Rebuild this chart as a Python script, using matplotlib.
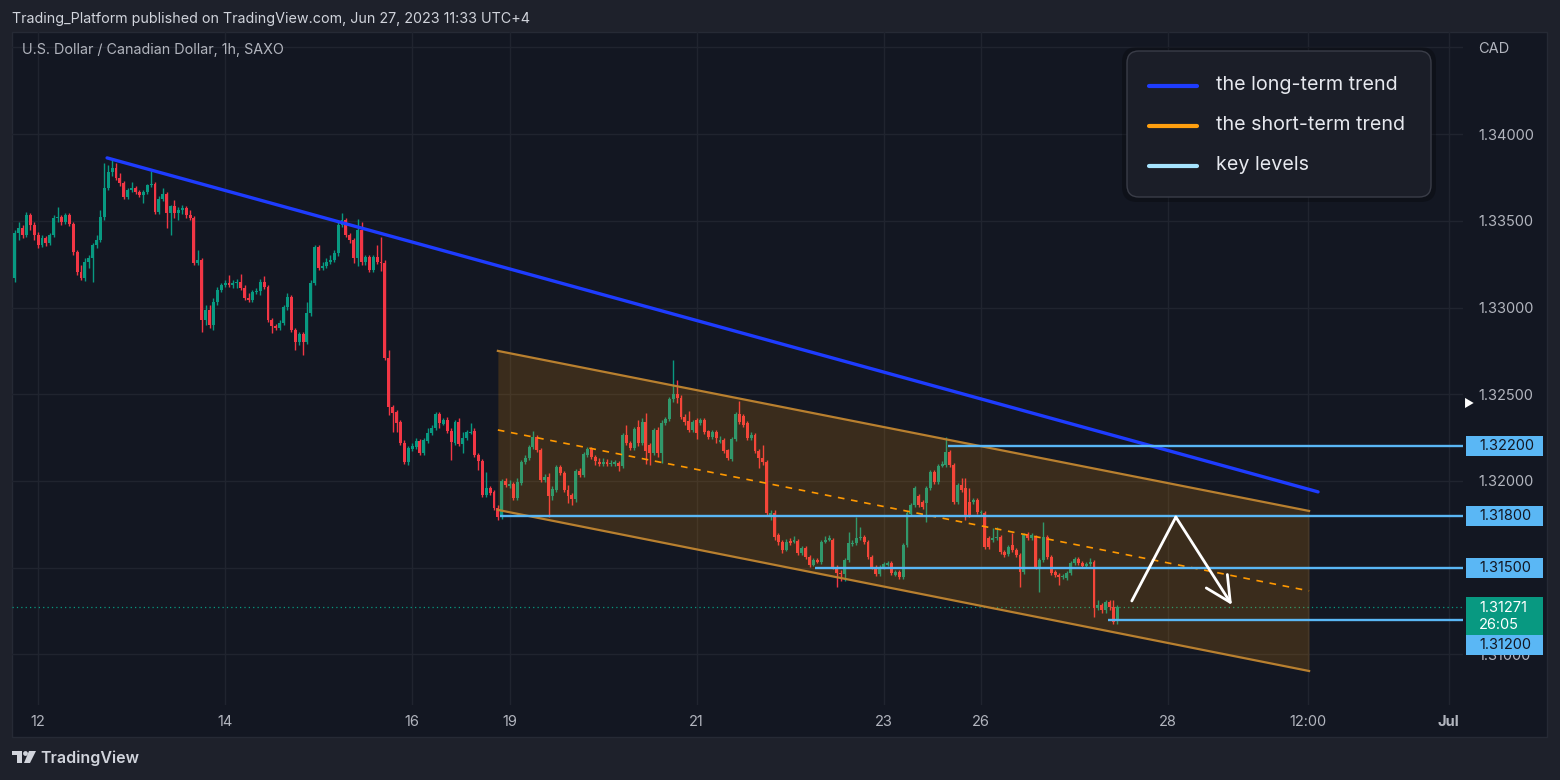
import numpy as np
import matplotlib.pyplot as plt
import matplotlib.transforms as mtransforms
from matplotlib.patches import Rectangle, FancyBboxPatch, Polygon, Circle

plt.rcParams['font.family'] = ['Inter', 'DejaVu Sans']

# USD/CAD 1h candles, bar 0 = Jun 12 00:00 (weekend hours skipped)
first_bar = -6
opens = [
    1.33171, 1.33430, 1.33459, 1.33419, 1.33534, 1.33477, 1.33419, 1.33361, 1.33402, 1.33373,
    1.33419, 1.33517, 1.33523, 1.33494, 1.33534, 1.33482, 1.33321, 1.33205, 1.33171, 1.33263,
    1.33286, 1.33361, 1.33390, 1.33523, 1.33690, 1.33782, 1.33805, 1.33747, 1.33718, 1.33638,
    1.33678, 1.33690, 1.33667, 1.33650, 1.33667, 1.33707, 1.33713, 1.33552, 1.33626, 1.33655,
    1.33546, 1.33586, 1.33546, 1.33563, 1.33575, 1.33534, 1.33517, 1.33257, 1.33275, 1.32928,
    1.32986, 1.32900, 1.33032, 1.33101, 1.33130, 1.33142, 1.33130, 1.33142, 1.33148, 1.33113,
    1.33055, 1.33044, 1.33090, 1.33096, 1.33148, 1.33119, 1.32928, 1.32894, 1.32882, 1.32911,
    1.33003, 1.33061, 1.32871, 1.32802, 1.32848, 1.32802, 1.32969, 1.33142, 1.33350, 1.33228,
    1.33240, 1.33263, 1.33275, 1.33315, 1.33477, 1.33505, 1.33419, 1.33390, 1.33286, 1.33448,
    1.33263, 1.33292, 1.33217, 1.33292, 1.33263, 1.33257,
    1.32710, 1.32426, 1.32397, 1.32340, 1.32219, 1.32110, 1.32184, 1.32196, 1.32230, 1.32161,
    1.32230, 1.32277, 1.32306, 1.32386, 1.32329, 1.32352, 1.32288, 1.32219, 1.32340, 1.32213,
    1.32248, 1.32277, 1.32288, 1.32150, 1.32115, 1.31919, 1.31960, 1.31937, 1.31844, 1.31792,
    1.32000, 1.31971, 1.31983, 1.31902, 1.31988, 1.32110, 1.32133, 1.32196, 1.32254, 1.32179,
    1.32006, 1.32023, 1.31913, 1.31948, 1.32081, 1.32046, 1.31948, 1.31919, 1.31896, 1.32057,
    1.32034, 1.32150, 1.32184, 1.32138, 1.32110, 1.32098, 1.32110, 1.32098, 1.32098, 1.32104,
    1.32086, 1.32265, 1.32219, 1.32190, 1.32311, 1.32219, 1.32340, 1.32207, 1.32161, 1.32294,
    1.32161, 1.32335, 1.32358, 1.32473, 1.32502, 1.32479, 1.32369, 1.32346, 1.32294, 1.32352,
    1.32335, 1.32352, 1.32288, 1.32254, 1.32282, 1.32225, 1.32236, 1.32179, 1.32127, 1.32242,
    1.32386, 1.32375, 1.32335, 1.32248, 1.32265, 1.32173, 1.32133, 1.32110,
    1.31792, 1.31815, 1.31688, 1.31648, 1.31602, 1.31654, 1.31648, 1.31654, 1.31585, 1.31613,
    1.31562, 1.31515, 1.31544, 1.31533, 1.31648, 1.31660, 1.31660, 1.31504, 1.31469, 1.31464,
    1.31544, 1.31637, 1.31642, 1.31671, 1.31677, 1.31648, 1.31562, 1.31504, 1.31464, 1.31504,
    1.31515, 1.31527, 1.31458, 1.31475, 1.31446, 1.31631, 1.31810, 1.31862, 1.31913, 1.31879,
    1.31873, 1.31960, 1.32052, 1.31994, 1.32086, 1.32092, 1.32167, 1.32092, 1.31879, 1.31977,
    1.31960, 1.31879, 1.31879, 1.31890, 1.31815, 1.31815, 1.31671, 1.31660, 1.31671, 1.31677,
    1.31590, 1.31579, 1.31631, 1.31602, 1.31573, 1.31475, 1.31694, 1.31671, 1.31677, 1.31504,
    1.31544, 1.31677, 1.31562, 1.31475, 1.31458, 1.31446, 1.31440, 1.31469, 1.31527, 1.31550,
    1.31527, 1.31510, 1.31521, 1.31533, 1.31268, 1.31285, 1.31256, 1.31302, 1.31273, 1.31198,
]
highs = [
    1.33448, 1.33494, 1.33477, 1.33552, 1.33546, 1.33494, 1.33436, 1.33419, 1.33413, 1.33430,
    1.33534, 1.33580, 1.33534, 1.33546, 1.33546, 1.33494, 1.33332, 1.33246, 1.33286, 1.33303,
    1.33373, 1.33419, 1.33563, 1.33834, 1.33822, 1.33863, 1.33834, 1.33776, 1.33730, 1.33690,
    1.33724, 1.33701, 1.33678, 1.33678, 1.33713, 1.33788, 1.33724, 1.33644, 1.33690, 1.33667,
    1.33592, 1.33621, 1.33580, 1.33592, 1.33586, 1.33563, 1.33528, 1.33332, 1.33286, 1.33015,
    1.33015, 1.33055, 1.33119, 1.33142, 1.33159, 1.33188, 1.33159, 1.33165, 1.33194, 1.33130,
    1.33084, 1.33101, 1.33113, 1.33165, 1.33182, 1.33130, 1.32940, 1.32905, 1.32928, 1.33015,
    1.33084, 1.33073, 1.32882, 1.32859, 1.32859, 1.33032, 1.33159, 1.33361, 1.33361, 1.33263,
    1.33286, 1.33303, 1.33332, 1.33505, 1.33546, 1.33517, 1.33430, 1.33402, 1.33511, 1.33494,
    1.33303, 1.33303, 1.33303, 1.33361, 1.33407, 1.33275,
    1.32755, 1.32438, 1.32409, 1.32352, 1.32236, 1.32202, 1.32219, 1.32248, 1.32242, 1.32248,
    1.32306, 1.32323, 1.32397, 1.32397, 1.32363, 1.32369, 1.32306, 1.32352, 1.32363, 1.32282,
    1.32294, 1.32335, 1.32306, 1.32161, 1.32127, 1.32052, 1.31971, 1.31948, 1.31862, 1.32011,
    1.32017, 1.32006, 1.31994, 1.32017, 1.32121, 1.32150, 1.32207, 1.32288, 1.32265, 1.32190,
    1.32040, 1.32046, 1.31971, 1.32092, 1.32092, 1.32057, 1.31977, 1.31931, 1.32069, 1.32075,
    1.32167, 1.32196, 1.32196, 1.32150, 1.32133, 1.32133, 1.32127, 1.32121, 1.32121, 1.32115,
    1.32277, 1.32323, 1.32230, 1.32311, 1.32352, 1.32363, 1.32392, 1.32219, 1.32306, 1.32311,
    1.32352, 1.32369, 1.32484, 1.32698, 1.32582, 1.32496, 1.32386, 1.32404, 1.32352, 1.32363,
    1.32363, 1.32363, 1.32294, 1.32294, 1.32294, 1.32259, 1.32248, 1.32184, 1.32254, 1.32397,
    1.32461, 1.32386, 1.32346, 1.32282, 1.32277, 1.32184, 1.32207, 1.32121,
    1.31833, 1.31833, 1.31700, 1.31660, 1.31665, 1.31671, 1.31683, 1.31665, 1.31625, 1.31625,
    1.31573, 1.31556, 1.31556, 1.31660, 1.31683, 1.31688, 1.31671, 1.31515, 1.31487, 1.31556,
    1.31706, 1.31660, 1.31792, 1.31735, 1.31688, 1.31660, 1.31573, 1.31515, 1.31515, 1.31533,
    1.31539, 1.31539, 1.31487, 1.31487, 1.31642, 1.31827, 1.31873, 1.31971, 1.31925, 1.31890,
    1.31971, 1.32063, 1.32063, 1.32098, 1.32115, 1.32254, 1.32179, 1.32104, 1.31988, 1.32017,
    1.32017, 1.31960, 1.31902, 1.31902, 1.31833, 1.31827, 1.31683, 1.31729, 1.31735, 1.31688,
    1.31602, 1.31631, 1.31700, 1.31613, 1.31585, 1.31700, 1.31706, 1.31700, 1.31688, 1.31556,
    1.31763, 1.31688, 1.31573, 1.31487, 1.31469, 1.31464, 1.31481, 1.31539, 1.31562, 1.31562,
    1.31539, 1.31533, 1.31556, 1.31544, 1.31314, 1.31296, 1.31314, 1.31314, 1.31314, 1.31285,
]
lows = [
    1.33148, 1.33390, 1.33402, 1.33407, 1.33448, 1.33390, 1.33344, 1.33350, 1.33355, 1.33361,
    1.33407, 1.33494, 1.33477, 1.33482, 1.33471, 1.33303, 1.33188, 1.33159, 1.33153, 1.33228,
    1.33148, 1.33344, 1.33379, 1.33505, 1.33678, 1.33759, 1.33736, 1.33701, 1.33626, 1.33626,
    1.33667, 1.33655, 1.33638, 1.33603, 1.33655, 1.33696, 1.33540, 1.33540, 1.33615, 1.33459,
    1.33419, 1.33517, 1.33505, 1.33540, 1.33517, 1.33505, 1.33246, 1.33246, 1.32859, 1.32900,
    1.32882, 1.32871, 1.33015, 1.33090, 1.33119, 1.33119, 1.33113, 1.33113, 1.33101, 1.33044,
    1.33032, 1.33032, 1.33078, 1.33073, 1.33107, 1.32917, 1.32853, 1.32871, 1.32871, 1.32900,
    1.32986, 1.32859, 1.32755, 1.32784, 1.32727, 1.32790, 1.32952, 1.33130, 1.33217, 1.33217,
    1.33228, 1.33252, 1.33263, 1.33298, 1.33465, 1.33407, 1.33373, 1.33257, 1.33240, 1.33246,
    1.33246, 1.33205, 1.33205, 1.33252, 1.33211, 1.32698,
    1.32380, 1.32282, 1.32282, 1.32207, 1.32098, 1.32092, 1.32173, 1.32184, 1.32150, 1.32150,
    1.32219, 1.32265, 1.32294, 1.32306, 1.32323, 1.32277, 1.32121, 1.32207, 1.32202, 1.32161,
    1.32236, 1.32271, 1.32138, 1.32063, 1.31908, 1.31908, 1.31919, 1.31833, 1.31775, 1.31781,
    1.31965, 1.31960, 1.31890, 1.31890, 1.31977, 1.32098, 1.32121, 1.32184, 1.32167, 1.31994,
    1.31994, 1.31792, 1.31890, 1.31937, 1.32034, 1.31937, 1.31873, 1.31862, 1.31879, 1.32023,
    1.32023, 1.32138, 1.32127, 1.32092, 1.32086, 1.32086, 1.32086, 1.32086, 1.32086, 1.32057,
    1.32075, 1.32207, 1.32179, 1.32179, 1.32202, 1.32207, 1.32098, 1.32092, 1.32150, 1.32138,
    1.32104, 1.32323, 1.32346, 1.32456, 1.32450, 1.32358, 1.32323, 1.32282, 1.32282, 1.32242,
    1.32323, 1.32271, 1.32242, 1.32242, 1.32219, 1.32219, 1.32161, 1.32121, 1.32115, 1.32230,
    1.32329, 1.32311, 1.32236, 1.32236, 1.32161, 1.32075, 1.32092, 1.31804,
    1.31775, 1.31660, 1.31631, 1.31585, 1.31596, 1.31631, 1.31642, 1.31573, 1.31573, 1.31550,
    1.31504, 1.31510, 1.31527, 1.31521, 1.31642, 1.31654, 1.31492, 1.31389, 1.31423, 1.31423,
    1.31533, 1.31625, 1.31631, 1.31660, 1.31637, 1.31550, 1.31492, 1.31452, 1.31452, 1.31492,
    1.31510, 1.31458, 1.31452, 1.31435, 1.31435, 1.31619, 1.31798, 1.31850, 1.31850, 1.31838,
    1.31763, 1.31948, 1.31983, 1.31983, 1.32081, 1.32081, 1.32081, 1.31867, 1.31867, 1.31937,
    1.31775, 1.31792, 1.31867, 1.31810, 1.31804, 1.31608, 1.31608, 1.31648, 1.31660, 1.31579,
    1.31562, 1.31567, 1.31590, 1.31562, 1.31389, 1.31464, 1.31660, 1.31660, 1.31492, 1.31360,
    1.31533, 1.31550, 1.31458, 1.31446, 1.31400, 1.31435, 1.31429, 1.31458, 1.31515, 1.31515,
    1.31498, 1.31498, 1.31510, 1.31216, 1.31256, 1.31239, 1.31239, 1.31256, 1.31175, 1.31175,
]
closes = [
    1.33430, 1.33459, 1.33419, 1.33534, 1.33477, 1.33419, 1.33361, 1.33402, 1.33373, 1.33419,
    1.33517, 1.33523, 1.33494, 1.33534, 1.33482, 1.33321, 1.33205, 1.33171, 1.33263, 1.33286,
    1.33361, 1.33390, 1.33523, 1.33690, 1.33782, 1.33805, 1.33747, 1.33718, 1.33638, 1.33678,
    1.33690, 1.33667, 1.33650, 1.33667, 1.33707, 1.33713, 1.33552, 1.33626, 1.33655, 1.33546,
    1.33586, 1.33546, 1.33563, 1.33575, 1.33534, 1.33517, 1.33257, 1.33275, 1.32928, 1.32986,
    1.32900, 1.33032, 1.33101, 1.33130, 1.33142, 1.33130, 1.33142, 1.33148, 1.33113, 1.33055,
    1.33044, 1.33090, 1.33096, 1.33148, 1.33119, 1.32928, 1.32894, 1.32882, 1.32911, 1.33003,
    1.33061, 1.32871, 1.32802, 1.32848, 1.32802, 1.32969, 1.33142, 1.33350, 1.33228, 1.33240,
    1.33263, 1.33275, 1.33315, 1.33477, 1.33505, 1.33419, 1.33390, 1.33286, 1.33448, 1.33263,
    1.33292, 1.33217, 1.33292, 1.33263, 1.33257, 1.32709,
    1.32426, 1.32392, 1.32335, 1.32219, 1.32110, 1.32190, 1.32202, 1.32230, 1.32161, 1.32236,
    1.32277, 1.32306, 1.32386, 1.32335, 1.32352, 1.32288, 1.32225, 1.32340, 1.32213, 1.32248,
    1.32282, 1.32282, 1.32150, 1.32115, 1.31919, 1.31960, 1.31931, 1.31844, 1.31792, 1.32000,
    1.31977, 1.31983, 1.31902, 1.31994, 1.32110, 1.32133, 1.32196, 1.32254, 1.32179, 1.32006,
    1.32023, 1.31913, 1.31954, 1.32081, 1.32046, 1.31948, 1.31913, 1.31896, 1.32057, 1.32034,
    1.32156, 1.32184, 1.32138, 1.32115, 1.32098, 1.32110, 1.32098, 1.32104, 1.32110, 1.32086,
    1.32265, 1.32219, 1.32190, 1.32300, 1.32219, 1.32340, 1.32173, 1.32161, 1.32294, 1.32161,
    1.32335, 1.32358, 1.32473, 1.32502, 1.32479, 1.32369, 1.32340, 1.32294, 1.32340, 1.32277,
    1.32352, 1.32282, 1.32254, 1.32282, 1.32248, 1.32236, 1.32173, 1.32133, 1.32242, 1.32386,
    1.32340, 1.32323, 1.32248, 1.32265, 1.32173, 1.32133, 1.32110, 1.31815,
    1.31815, 1.31677, 1.31648, 1.31602, 1.31648, 1.31642, 1.31660, 1.31585, 1.31613, 1.31562,
    1.31515, 1.31544, 1.31533, 1.31648, 1.31660, 1.31671, 1.31504, 1.31469, 1.31464, 1.31544,
    1.31642, 1.31642, 1.31671, 1.31677, 1.31648, 1.31562, 1.31504, 1.31464, 1.31504, 1.31521,
    1.31527, 1.31469, 1.31475, 1.31446, 1.31631, 1.31815, 1.31862, 1.31960, 1.31862, 1.31850,
    1.31960, 1.32052, 1.31994, 1.32086, 1.32098, 1.32167, 1.32092, 1.31879, 1.31977, 1.31948,
    1.31792, 1.31804, 1.31890, 1.31821, 1.31821, 1.31619, 1.31619, 1.31671, 1.31677, 1.31590,
    1.31573, 1.31619, 1.31602, 1.31573, 1.31475, 1.31688, 1.31671, 1.31688, 1.31504, 1.31544,
    1.31677, 1.31562, 1.31469, 1.31458, 1.31446, 1.31452, 1.31469, 1.31527, 1.31550, 1.31527,
    1.31510, 1.31521, 1.31533, 1.31268, 1.31285, 1.31256, 1.31302, 1.31273, 1.31187, 1.31271,
]

# time axis (bar positions of the date labels)
tick_bars = [0, 48, 96, 121, 169, 217, 242, 290, 326, 362]
tick_names = ['12', '14', '16', '19', '21', '23', '26', '28', '12:00', 'Jul']
price_ticks = [1.310, 1.315, 1.320, 1.325, 1.330, 1.335, 1.340, 1.345]
price_names = ['1.31000', '1.31500', '1.32000', '1.32500', '1.33000', '1.33500', '1.34000', 'CAD']

# drawings on the chart (bar, price)
long_x = [17.7, 328.5]
long_y = [1.33863, 1.31937]
chan_x = [118.0, 326.2]
chan_top = [1.32750, 1.31827]
chan_mid = [1.32294, 1.31366]
chan_bot = [1.31833, 1.30904]
key_levels = [1.32200, 1.31800, 1.31500, 1.31200]
key_from = [233.5, 118.6, 199.4, 274.6]
arrow_x = [280.7, 292.0, 306.4]
arrow_y = [1.31308, 1.31792, 1.31285]
last_price = 1.31271
countdown = '26:05'

legend_names = ['the long-term trend', 'the short-term trend', 'key levels']
legend_colors = ['#1e3cff', '#ff9f0f', '#a6e4ff']

BG = '#131722'
FRAME = '#1e212b'
GRID = '#20242f'
TXT = '#b2b5be'
UP = '#089981'
DOWN = '#f23645'
KEY = '#5ab7f5'

W, H = 1560, 780
fig = plt.figure(figsize=(W / 100, H / 100), dpi=100, facecolor=FRAME)

# pane background
back = fig.add_axes([0, 0, 1, 1], zorder=0)
back.set_xlim(0, W)
back.set_ylim(H, 0)
back.axis('off')
back.add_patch(Rectangle((12, 32), 1535, 705, facecolor=BG, edgecolor='#262a35', lw=1))

# main chart
ax = fig.add_axes([12 / W, 1 - 705 / H, 1451 / W, 673 / H], zorder=1)
ax.set_facecolor('none')
ax.set_xlim(-6.7, 365.7)
ax.set_ylim(1.30708, 1.34589)
ax.set_axisbelow(True)
ax.grid(True, color=GRID, lw=1)
for s in ax.spines.values():
    s.set_visible(False)

ax.set_xticks(tick_bars)
ax.set_xticklabels(tick_names)
ax.get_xticklabels()[-1].set_fontweight('bold')
ax.yaxis.tick_right()
ax.set_yticks(price_ticks)
ax.set_yticklabels(price_names)
ax.tick_params(axis='x', length=0, pad=7, labelsize=10.5, labelcolor=TXT)
ax.tick_params(axis='y', length=0, pad=11, labelsize=10.5, labelcolor=TXT)

# candles
o = np.array(opens)
hi = np.array(highs)
lo = np.array(lows)
c = np.array(closes)
x = np.arange(first_bar, first_bar + len(c))
col = np.where(c >= o, UP, DOWN)
ax.vlines(x, lo, hi, colors=col, lw=1, zorder=3)
ax.bar(x, np.maximum(np.abs(c - o), 0.00002), bottom=np.minimum(o, c), width=0.75,
       color=col, lw=0, zorder=3)

# short-term channel
ax.fill_between(chan_x, chan_bot, chan_top, color='#ff9800', alpha=0.17, lw=0, zorder=4)
ax.plot(chan_x, chan_top, color='#b9802f', lw=1.6, zorder=4)
ax.plot(chan_x, chan_bot, color='#b9802f', lw=1.6, zorder=4)
ax.plot(chan_x, chan_mid, color='#ff9800', lw=1.2, ls=(0, (4, 4)), zorder=4)

# long-term trend
ax.plot(long_x, long_y, color=legend_colors[0], lw=2.4, solid_capstyle='round', zorder=5)

# last price line
ax.axhline(last_price, color=UP, lw=0.9, ls=(0, (1, 2.5)), zorder=2)

# key levels
xmax = ax.get_xlim()[1]
for lv, x0 in zip(key_levels, key_from):
    ax.plot([x0, xmax], [lv, lv], color=KEY, lw=1.7, zorder=5, solid_capstyle='butt')

# expected path arrow
ax.plot(arrow_x[:2], arrow_y[:2], color='white', lw=2, zorder=6, solid_capstyle='round')
ax.annotate('', xy=(arrow_x[2], arrow_y[2]), xytext=(arrow_x[1], arrow_y[1]),
            arrowprops=dict(arrowstyle='->,head_length=0.9,head_width=0.45', color='white',
                            lw=2, shrinkA=0, shrinkB=0, mutation_scale=20), zorder=6)

# price scale boxes
px = (ax.get_ylim()[1] - ax.get_ylim()[0]) / 673
bt = mtransforms.blended_transform_factory(ax.transAxes, ax.transData)
bx, bw = 1454 / 1451, 77 / 1451
tx = 1467 / 1451


def price_box(bottom, height, face):
    ax.add_patch(Rectangle((bx, bottom), bw, height, transform=bt, facecolor=face,
                           edgecolor='none', clip_on=False, zorder=8))


for lv in key_levels[:3]:
    price_box(lv - 10 * px, 20 * px, KEY)
    ax.text(tx, lv, f'{lv:.5f}', transform=bt, color='#131722', fontsize=10.5,
            va='center', ha='left', clip_on=False, zorder=9)

price_box(last_price - 28 * px, 38 * px, UP)
ax.text(tx, last_price - 1 * px, f'{last_price:.5f}', transform=bt, color='white',
        fontsize=10.5, va='center', ha='left', clip_on=False, zorder=9)
ax.text(tx, last_price - 17.5 * px, countdown, transform=bt, color='white',
        fontsize=10.5, va='center', ha='left', clip_on=False, zorder=9)
price_box(last_price - 48 * px, 20 * px, KEY)
ax.text(tx, last_price - 38 * px, f'{key_levels[3]:.5f}', transform=bt, color='#131722',
        fontsize=10.5, va='center', ha='left', clip_on=False, zorder=9)

# overlay: header, legend, footer
top = fig.add_axes([0, 0, 1, 1], zorder=3)
top.set_xlim(0, W)
top.set_ylim(H, 0)
top.axis('off')

top.text(12, 19, 'Trading_Platform published on TradingView.com, Jun 27, 2023 11:33 UTC+4',
         color='#d1d4dc', fontsize=10.3, va='center')
top.text(22, 50, 'U.S. Dollar / Canadian Dollar, 1h, SAXO', color=TXT, fontsize=10.3,
         va='center')
top.text(1469, 404, '\u25b6', color='white', fontsize=8, ha='center', va='center')

top.add_patch(FancyBboxPatch((1122, 47), 314, 155, boxstyle='round,pad=0,rounding_size=15',
                             facecolor='black', alpha=0.25, lw=0))
top.add_patch(FancyBboxPatch((1127, 51), 304, 146, boxstyle='round,pad=0,rounding_size=12',
                             facecolor='#1b1e28', edgecolor='#3a3d48', lw=1))
for k, (name, lc) in enumerate(zip(legend_names, legend_colors)):
    ly = 85.5 + 40 * k
    top.plot([1149, 1197], [ly, ly], color=lc, lw=3, solid_capstyle='round')
    top.text(1216, ly, name, color='#e6e8ee', fontsize=14.2, va='center')

# TradingView logo
top.add_patch(Polygon([(12, 751), (22, 751), (22, 763), (17, 763), (17, 755), (12, 755)],
                      closed=True, facecolor='#d1d4dc', lw=0))
top.add_patch(Circle((25.5, 753.5), 2.4, facecolor='#d1d4dc', lw=0))
top.add_patch(Polygon([(29, 751), (36, 751), (30, 763), (24, 763)], closed=True,
                      facecolor='#d1d4dc', lw=0))
top.text(40, 758, 'TradingView', color='#d1d4dc', fontsize=11.5, fontweight='semibold',
         va='center')

fig.savefig('out.png', dpi=100, facecolor=fig.get_facecolor())
